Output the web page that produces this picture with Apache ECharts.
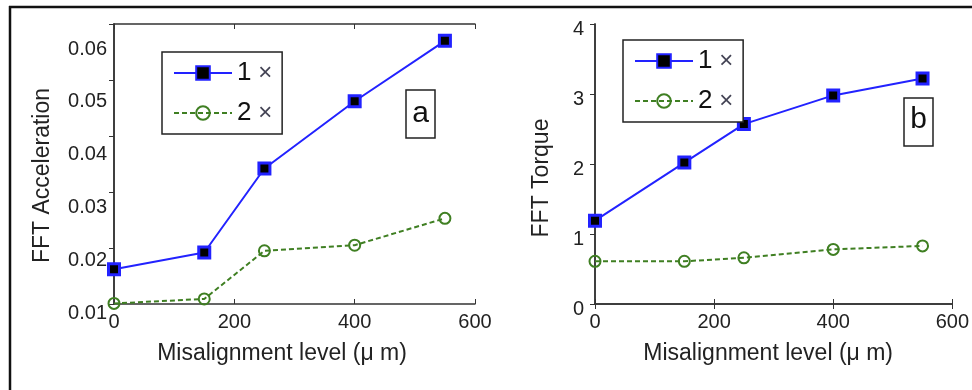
<!DOCTYPE html>
<html>
<head>
<meta charset="utf-8">
<script src="https://cdn.jsdelivr.net/npm/echarts@6/dist/echarts.min.js"></script>
<style>html,body{margin:0;padding:0;background:#fff}#c{width:972px;height:390px}</style>
</head>
<body>
<div id="c"></div>
<script>
// ---- data ----
const misalignment = [0, 150, 250, 400, 550];
const accel1x = [0.0162, 0.0192, 0.0342, 0.0462, 0.0570];
const accel2x = [0.0101, 0.0109, 0.0195, 0.0205, 0.0253];
const torque1x = [1.19, 2.02, 2.57, 2.98, 3.22];
const torque2x = [0.61, 0.61, 0.66, 0.78, 0.83];
const seriesNames = ['1 ×', '2 ×'];
const xTitle = 'Misalignment level (μ m)';
const yTitleA = 'FFT Acceleration';
const yTitleB = 'FFT Torque';

const FONT = 'Liberation Sans, Arial, sans-serif';
const AX = '#333';
const BLUE = '#2222ff';
const GREEN = '#3f7f22';

function pairs(ys){ return misalignment.map((x,i)=>[x, ys[i]]); }

const chart = echarts.init(document.getElementById('c'), null, {renderer:'canvas'});

const lineAx = {show:true, lineStyle:{color:AX, width:1.5}};
const tickIn = {show:true, inside:true, length:5, lineStyle:{color:AX, width:1}};
const lbl = {fontFamily:FONT, fontSize:20, color:'#222'};

function s1(name, data, xi, yi){
  return {type:'line', name, data, xAxisIndex:xi, yAxisIndex:yi, clip:false,
    symbol:'rect', symbolSize:11,
    itemStyle:{color:'#000', borderColor:BLUE, borderWidth:3},
    lineStyle:{color:BLUE, width:2}, z:3};
}
function s2(name, data, xi, yi){
  return {type:'line', name, data, xAxisIndex:xi, yAxisIndex:yi, clip:false,
    symbol:'circle', symbolSize:11,
    itemStyle:{color:'transparent', borderColor:GREEN, borderWidth:2},
    lineStyle:{color:GREEN, width:2, type:[5,3]}, z:2};
}

function legend(left, top){
  return {left, top, orient:'vertical', data:seriesNames,
    backgroundColor:'#fff', borderColor:'#222', borderWidth:1.5,
    padding:[8,10,8,11], itemWidth:58, itemHeight:17, itemGap:14,
    formatter:n=>{const p=n.split(' '); return '{n|'+p[0]+'} {x|'+p[1]+'}';},
    textStyle:{fontFamily:FONT, fontSize:24, color:'#111',
      rich:{n:{fontFamily:FONT, fontSize:26, color:'#111'}, x:{fontFamily:FONT, fontSize:24, color:'#445'}}},
    selectedMode:false};
}

const option = {
  animation:false,
  grid:[
    {left:114, top:24, width:361, height:280},
    {left:595, top:24, width:361, height:280},
    {left:114, top:49, width:361, height:264}
  ],
  xAxis:[
    {gridIndex:0, type:'value', min:0, max:600, interval:200, position:'bottom',
     axisLine:lineAx, axisTick:tickIn, splitLine:{show:false},
     axisLabel:Object.assign({margin:8}, lbl),
     name:xTitle, nameLocation:'middle', nameGap:38,
     nameTextStyle:{fontFamily:FONT, fontSize:23, color:'#222', padding:[0,25,0,0]}},
    {gridIndex:0, type:'value', min:0, max:600, interval:200, position:'top',
     axisLine:lineAx, axisTick:tickIn, axisLabel:{show:false}, splitLine:{show:false}},
    {gridIndex:1, type:'value', min:0, max:600, interval:200, position:'bottom',
     axisLine:lineAx, axisTick:tickIn, splitLine:{show:false},
     axisLabel:Object.assign({margin:8}, lbl),
     name:xTitle, nameLocation:'middle', nameGap:38,
     nameTextStyle:{fontFamily:FONT, fontSize:23, color:'#222', padding:[0,11,0,0]}},
    {gridIndex:1, type:'value', min:0, max:600, interval:200, position:'top',
     axisLine:lineAx, axisTick:tickIn, axisLabel:{show:false}, splitLine:{show:false}},
    {gridIndex:2, type:'value', min:0, max:600, show:false}
  ],
  yAxis:[
    {gridIndex:0, type:'value', min:0.01, max:0.06, interval:0.01, position:'left',
     axisLine:lineAx, axisTick:{show:false}, axisLabel:{show:false}, splitLine:{show:false},
     name:yTitleA, nameLocation:'middle', nameGap:60,
     nameTextStyle:{fontFamily:FONT, fontSize:23, color:'#222', padding:[0,23,0,0]}},
    {gridIndex:0, type:'value', min:0.01, max:0.06, interval:0.01, position:'right',
     axisLine:lineAx, axisTick:tickIn, axisLabel:{show:false}, splitLine:{show:false}},
    {gridIndex:1, type:'value', min:0, max:4, interval:1, position:'left',
     axisLine:lineAx, axisTick:{show:false}, splitLine:{show:false},
     axisLabel:Object.assign({margin:11, verticalAlign:'top', lineHeight:10}, lbl),
     name:yTitleB, nameLocation:'middle', nameGap:42,
     nameTextStyle:{fontFamily:FONT, fontSize:23, color:'#222', padding:[0,28,0,0]}},
    {gridIndex:1, type:'value', min:0, max:4, interval:1, position:'right',
     axisLine:lineAx, axisTick:tickIn, axisLabel:{show:false}, splitLine:{show:false}},
    {gridIndex:2, type:'value', min:0.01, max:0.06, interval:0.01, position:'left',
     axisLine:{show:false}, axisTick:{show:false}, splitLine:{show:false},
     axisLabel:Object.assign({margin:7, formatter:v=>v.toFixed(2)}, lbl)}
  ],
  legend:[legend(162,52), legend(623,40)],
  series:[
    s1(seriesNames[0], pairs(accel1x), 0, 0),
    s2(seriesNames[1], pairs(accel2x), 0, 0),
    s1(seriesNames[0], pairs(torque1x), 2, 2),
    s2(seriesNames[1], pairs(torque2x), 2, 2)
  ],
  graphic:[
    {type:'line', shape:{x1:9, y1:7, x2:972, y2:7}, style:{stroke:'#111', lineWidth:2.5}},
    {type:'line', shape:{x1:10, y1:6, x2:10, y2:390}, style:{stroke:'#111', lineWidth:2.5}},
    {type:'rect', shape:{x:406, y:90, width:29, height:48}, style:{fill:'#fff', stroke:'#222', lineWidth:1.5}},
    {type:'text', x:420.5, y:114, style:{text:'a', fontFamily:FONT, fontSize:30, fill:'#111', align:'center', verticalAlign:'middle'}},
    {type:'rect', shape:{x:904, y:98, width:29, height:48}, style:{fill:'#fff', stroke:'#222', lineWidth:1.5}},
    {type:'text', x:918.5, y:120, style:{text:'b', fontFamily:FONT, fontSize:30, fill:'#111', align:'center', verticalAlign:'middle'}}
  ]
};
chart.setOption(option);
</script>
</body>
</html>
